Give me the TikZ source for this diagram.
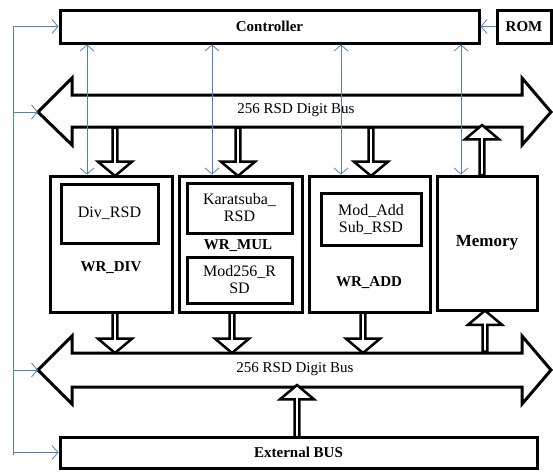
\documentclass[tikz,border=0pt]{standalone}
\usepackage{fontspec}
\setmainfont{Liberation Serif}
\usetikzlibrary{shapes.arrows,arrows.meta}
\definecolor{linkblue}{RGB}{79,129,189}

\begin{document}
\begin{tikzpicture}[
    x=1pt, y=-1pt,
    box/.style={rectangle, draw, line width=3pt, fill=white, inner sep=0pt, font=\bfseries\fontsize{15pt}{17pt}\selectfont},
    inbox/.style={rectangle, draw, line width=3pt, inner sep=0pt, align=center, font=\fontsize{16pt}{17pt}\selectfont},
    lbl/.style={font=\bfseries\fontsize{15pt}{17pt}\selectfont},
    bustext/.style={font=\fontsize{15pt}{17pt}\selectfont},
    bus/.style={draw, line width=3pt, fill=white},
    hollow/.style={single arrow, draw, line width=2.5pt, fill=white, inner sep=0pt, minimum width=34pt, single arrow head extend=8pt, single arrow tip angle=100},
    link/.style={draw=linkblue, line width=0.8pt},
    tip/.style={-{Straight Barb[length=6pt, width=14pt]}},
    tips/.style={{Straight Barb[length=6pt, width=14pt]}-{Straight Barb[length=6pt, width=14pt]}}
]
    \useasboundingbox (0,0) rectangle (553,472);

    % controller and rom
    \node[box, minimum width=419pt, minimum height=33pt] (ctrl) at (269.5,26.5) {Controller};
    \node[box, minimum width=54pt, minimum height=33pt] (rom) at (524,26.5) {ROM};

    % top bus
    \coordinate (topbus-w) at (38,112);
    \coordinate (topbus-e) at (551,112);
    \draw[bus] (topbus-w) -- (72,78) -- (72,95) -- (522,95) -- (522,78) -- (topbus-e)
        -- (522,145) -- (522,127) -- (72,127) -- (72,145) -- cycle;
    \node[bustext] (topbus) at (296,110) {256 RSD Digit Bus};

    % bottom bus
    \coordinate (botbus-w) at (38,370);
    \coordinate (botbus-e) at (551,370);
    \draw[bus] (botbus-w) -- (72,336) -- (72,353) -- (522,353) -- (522,336) -- (botbus-e)
        -- (522,404) -- (522,387) -- (72,387) -- (72,404) -- cycle;
    \node[bustext] (botbus) at (295,369) {256 RSD Digit Bus};

    % blocks
    \node[box, minimum width=122pt, minimum height=136pt] (wrdiv) at (111,244) {};
    \node[inbox, minimum width=97pt, minimum height=59pt] (divrsd) at (109.5,213.5) {Div\_RSD};
    \node[lbl] (wrdivlbl) at (111,268) {WR\_DIV};

    \node[box, minimum width=123pt, minimum height=136pt] (wrmul) at (240.5,244) {};
    \node[inbox, minimum width=105pt, minimum height=50pt] (kara) at (239.5,208) {Karatsuba\_\\RSD};
    \node[lbl] (wrmullbl) at (238,246) {WR\_MUL};
    \node[inbox, minimum width=105pt, minimum height=46pt] (mod256) at (239.5,280) {Mod256\_R\\SD};

    \node[box, minimum width=121pt, minimum height=136pt] (wradd) at (369.5,244) {};
    \node[inbox, minimum width=100pt, minimum height=52pt] (modadd) at (371,219) {Mod\_Add\\Sub\_RSD};
    \node[lbl] (wraddlbl) at (369,283) {WR\_ADD};

    \node[box, minimum width=100pt, minimum height=134pt, font=\bfseries\fontsize{17pt}{19pt}\selectfont] (mem) at (487,243) {Memory};

    % external bus
    \node[box, minimum width=477pt, minimum height=31pt] (ext) at (298.5,452.5) {External BUS};

    % hollow arrows, top bus
    \node[hollow, minimum height=48pt, shape border rotate=270] (a1) at (115,151) {};
    \node[hollow, minimum height=48pt, shape border rotate=270] (a2) at (238,151) {};
    \node[hollow, minimum height=48pt, shape border rotate=270] (a3) at (371,151) {};
    \node[hollow, minimum height=50pt, shape border rotate=90] (a4) at (482,151) {};

    % hollow arrows, bottom bus
    \node[hollow, minimum height=40pt, shape border rotate=270] (b1) at (115,332) {};
    \node[hollow, minimum height=40pt, shape border rotate=270] (b2) at (232,332) {};
    \node[hollow, minimum height=40pt, shape border rotate=270] (b3) at (363,332) {};
    \node[hollow, minimum height=41pt, shape border rotate=90] (b4) at (485,332) {};
    \node[hollow, minimum height=52pt, shape border rotate=90] (b5) at (297,412) {};

    % blue links
    \draw[link, tip] (rom.west) -- (ctrl.east);
    \draw[link, tips] (87,0 |- ctrl.south) -- (87,0 |- wrdiv.north);
    \draw[link, tips] (212,0 |- ctrl.south) -- (212,0 |- wrmul.north);
    \draw[link, tips] (341,0 |- ctrl.south) -- (341,0 |- wradd.north);
    \draw[link, tips] (461,0 |- ctrl.south) -- (461,0 |- mem.north);

    \coordinate (trunk) at (13,27);
    \coordinate (trunkend) at (13,455);
    \draw[link] (trunk) -- (trunkend);
    \draw[link, tip] (trunk |- ctrl.west) -- (ctrl.west);
    \draw[link, tip] (trunk |- topbus-w) -- (topbus-w);
    \draw[link, tip] (trunk |- botbus-w) -- (botbus-w);
    \draw[link, tip] (trunk |- ext.west) -- (ext.west);
\end{tikzpicture}
\end{document}
